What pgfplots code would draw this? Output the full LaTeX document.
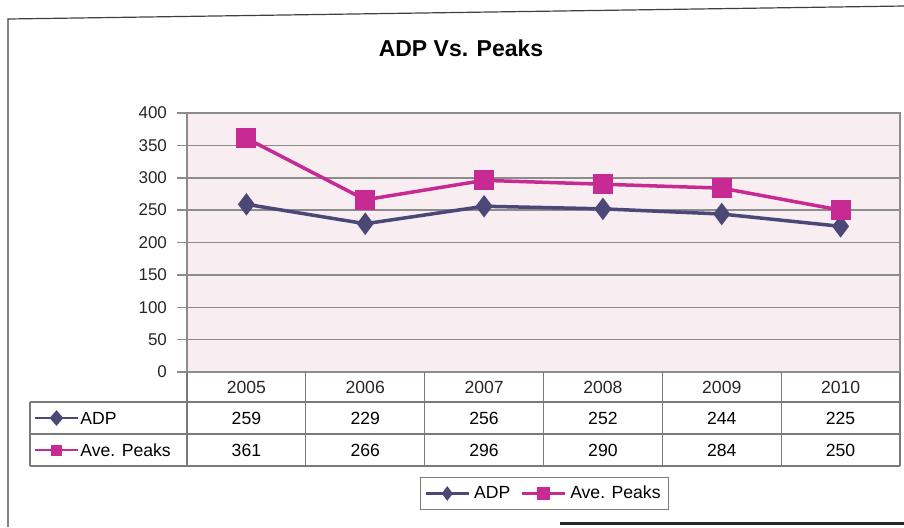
\documentclass[border=0pt]{standalone}
\usepackage{fontspec}
\setmainfont{Liberation Sans}
\usepackage{pgfplots}
\pgfplotsset{compat=1.18}
\usetikzlibrary{shapes.geometric}
\definecolor{adpc}{HTML}{4B4878}
\definecolor{pkc}{HTML}{C82A93}
\definecolor{bgp}{HTML}{F8EDF0}
\definecolor{gridc}{HTML}{8C8C8C}
\definecolor{tabc}{HTML}{7A7A7A}
\newcommand\tabfont{\fontsize{8.8}{10.5}\selectfont}
\begin{document}
\begin{tikzpicture}
\begin{scope}[x=0.5pt,y=-0.5pt]
\useasboundingbox (0,0) rectangle (904,527);
% outer frame
\draw[black!75, line width=0.6pt] (8,527) -- (8,19) -- (904,6);
\draw[black!85, line width=1.5pt] (560,523) -- (904,523);
% title
\node[font=\bfseries\fontsize{11.5}{13.8}\selectfont] at (461,48) {ADP Vs. Peaks};
\end{scope}
\begin{axis}[
  at={(93.5pt,-186pt)}, anchor=south west,
  scale only axis, width=356.5pt, height=129.5pt,
  xmin=-0.5, xmax=5.5, ymin=0, ymax=400,
  xtick={0,...,5}, xticklabels={2005,2006,2007,2008,2009,2010},
  ytick={0,50,...,400},
  ymajorgrids, grid style={gridc, line width=0.75pt},
  axis line style={gridc, line width=0.75pt},
  axis background/.style={fill=bgp},
  ytick pos=left, tick align=outside, major tick length=5pt,
  ytick style={gridc, line width=0.75pt},
  xtick style={draw=none},
  yticklabel shift=1.5pt,
  ticklabel style={font=\fontsize{8.5}{10.2}\selectfont, text=black!85},
  xticklabel style={anchor=center, yshift=-2.5pt, font=\tabfont},
  /pgf/number format/assume math mode=true,
  clip=false,
  legend style={at={(0.5014,-0.469)}, anchor=center, draw=tabc,
    font=\tabfont, inner sep=2pt,
    /tikz/every even column/.append style={column sep=3pt}},
  legend columns=2,
  legend image code/.code={\draw[mark repeat=2,mark phase=2,line width=1.3pt,mark size=2.6pt] plot coordinates {(0cm,0cm) (0.38cm,0cm) (0.76cm,0cm)};},
]
\addplot[color=adpc, line width=1.75pt, mark=diamond*, mark size=4.2pt, mark options={fill=adpc}]
  coordinates {(0,259) (1,229) (2,256) (3,252) (4,244) (5,225)};
\addlegendentry{ADP}
\addplot[color=pkc, line width=1.75pt, mark=square*, mark size=4.1pt, mark options={fill=pkc}]
  coordinates {(0,361) (1,266) (2,296) (3,290) (4,284) (5,250)};
\addlegendentry{Ave. Peaks}
\end{axis}
\begin{scope}[x=0.5pt,y=-0.5pt]
% data table grid
\draw[tabc, line width=0.6pt] (30,402) -- (900,402);
\draw[tabc, line width=0.6pt] (30,434) -- (900,434);
\draw[tabc, line width=0.6pt] (30,466) -- (900,466);
\draw[tabc, line width=0.6pt] (30,402) -- (30,466);
\foreach \xx in {187,305.8,424.7,543.5,662.3,781.2,900}{
  \draw[tabc, line width=0.6pt] (\xx,372) -- (\xx,466);
}
% row keys
\draw[adpc, line width=1.3pt] (35,418) -- (78,418);
\node[diamond, fill=adpc, inner sep=0pt, minimum width=7pt, minimum height=8pt] at (56.5,418) {};
\node[anchor=west, font=\tabfont, inner sep=0pt] at (80,418) {ADP};
\draw[pkc, line width=1.3pt] (35,450) -- (78,450);
\node[rectangle, fill=pkc, inner sep=0pt, minimum width=5.5pt, minimum height=5.5pt] at (56.5,450) {};
\node[anchor=west, font=\tabfont, inner sep=0pt] at (80,450) {Ave. Peaks};
% values
\foreach \v [count=\i from 0] in {259,229,256,252,244,225}{
  \node[font=\tabfont] at (246.4+118.83*\i,418) {\v};
}
\foreach \v [count=\i from 0] in {361,266,296,290,284,250}{
  \node[font=\tabfont] at (246.4+118.83*\i,450) {\v};
}
\end{scope}
\end{tikzpicture}
\end{document}
